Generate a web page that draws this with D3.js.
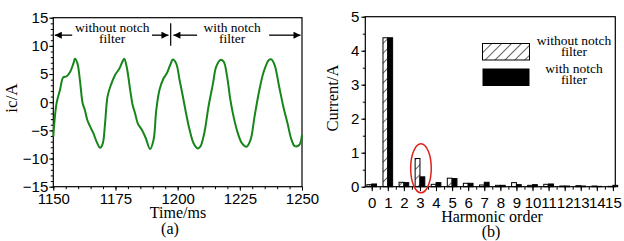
<!DOCTYPE html>
<html><head><meta charset="utf-8">
<script src="https://cdn.jsdelivr.net/npm/d3@7"></script>
<style>
html,body{margin:0;padding:0;background:#fff;}
svg{display:block;}
.tick text{font-family:"Liberation Sans",Arial,sans-serif;font-size:15px;fill:#000;}
.serif{font-family:"Liberation Serif","Times New Roman",serif;fill:#000;}
</style></head>
<body>
<svg id="c" width="624" height="241"></svg>
<script>
// ---- Panel (a): waveform ----
const timeMs = [1150,1151.3,1152.7,1154,1155.4,1156.8,1158.1,1158.7,1159.7,1160.7,1161.8,1162.7,1163.7,1164.8,1166.1,1167.4,1168.8,1169.9,1170.8,1171.8,1173.1,1174.8,1176.6,1177.7,1178.5,1179.5,1180.9,1181.9,1182.9,1184,1185.6,1187.2,1188.9,1190.3,1191.4,1192.7,1194.3,1195.6,1197,1198.1,1199.4,1200.8,1202.1,1203.4,1204.8,1206.4,1208,1209.1,1210.7,1212.4,1214.2,1215.5,1217.2,1218.5,1219.9,1221.2,1222.5,1224.2,1225.9,1227.7,1229.3,1230.9,1232.6,1234.6,1236.7,1237.7,1239,1240.8,1242.5,1244.2,1245.8,1247.1,1248.9,1250];
const icA = [-6.1,-0.2,2.2,4.4,4.6,5.4,6.9,7.7,6.9,3.9,-0.2,-1.4,-3.2,-4.3,-5.5,-7.0,-8.1,-7.3,-3.8,1.0,3.0,4.8,6.0,7.1,7.7,6.3,2.2,-0.5,-2.0,-3.8,-4.9,-6.4,-8.3,-6.7,-1.4,2.2,4.2,5.1,6.6,7.6,6.9,3.9,1.0,-2.0,-4.9,-7.3,-8.2,-7.9,-5.5,-0.8,3.3,6.3,7.5,7.2,4.5,0.4,-2.6,-5.5,-7.3,-7.9,-6.7,-2.6,1.6,5.4,7.5,7.6,6.6,2.8,-0.8,-3.8,-6.7,-7.8,-7.6,-5.8];
const timeTicks = [1150,1175,1200,1225,1250];
const icTicks = [-15,-10,-5,0,5,10,15];

// ---- Panel (b): harmonic spectrum ----
const harmonicOrder = [0,1,2,3,4,5,6,7,8,9,10,11,12,13,14,15];
const withoutNotch = [0.06,4.38,0.13,0.83,0.07,0.25,0.10,0.05,0.04,0.12,0.04,0.07,0.02,0.03,0.02,0.01];
const withNotch    = [0.08,4.38,0.12,0.29,0.12,0.24,0.10,0.13,0.04,0.06,0.06,0.08,0.02,0.02,0.01,0.04];
const currentTicks = [0,1,2,3,4,5];
const seriesNames = ["without notch filter","with notch filter"];

const svg = d3.select("#c");
const defs = svg.append("defs");
const pat = defs.append("pattern").attr("id","hatch").attr("patternUnits","userSpaceOnUse")
  .attr("width",7).attr("height",7).attr("patternTransform","rotate(45)");
pat.append("rect").attr("width",7).attr("height",7).attr("fill","#fff");
pat.append("line").attr("x1",0).attr("y1",0).attr("x2",0).attr("y2",7).attr("stroke","#000").attr("stroke-width",1.2);

const arrowId = "ah";
defs.append("marker").attr("id",arrowId).attr("viewBox","0 0 10 10").attr("refX",10).attr("refY",5)
  .attr("markerWidth",9).attr("markerHeight",7).attr("markerUnits","userSpaceOnUse").attr("orient","auto")
  .append("path").attr("d","M0,0L10,5L0,10Z").attr("fill","#000");

// ===== Panel (a) =====
const xa = d3.scaleLinear().domain([1150,1250]).range([53.3,302]);
const ya = d3.scaleLinear().domain([-15,15]).range([186.7,17.7]);
const ga = svg.append("g");

ga.append("g").attr("transform",`translate(${xa.range()[0]},0)`)
  .call(d3.axisLeft(ya).ticks(30).tickSize(2.5).tickFormat(""))
  .call(g=>g.select(".domain").remove());
ga.append("g").attr("transform",`translate(0,${ya.range()[0]})`)
  .call(d3.axisBottom(xa).ticks(20).tickSize(2.5).tickFormat(""))
  .call(g=>g.select(".domain").remove());

ga.append("g").attr("transform",`translate(${xa.range()[0]},0)`)
  .call(d3.axisLeft(ya).tickValues(icTicks).tickSize(4).tickPadding(1).tickFormat(d3.format("d")))
  .call(g=>g.select(".domain").remove());
ga.append("g").attr("transform",`translate(0,${ya.range()[0]})`)
  .call(d3.axisBottom(xa).tickValues(timeTicks).tickSize(4).tickPadding(3).tickFormat(d3.format("d")))
  .call(g=>g.select(".domain").remove());
ga.selectAll(".tick line").attr("stroke","#000");
ga.append("rect").attr("x",xa.range()[0]).attr("y",ya.range()[1])
  .attr("width",xa.range()[1]-xa.range()[0]).attr("height",ya.range()[0]-ya.range()[1])
  .attr("fill","none").attr("stroke","#000").attr("stroke-width",1.2);

const line = d3.line().x((d,i)=>xa(timeMs[i])).y(d=>ya(d)).curve(d3.curveCatmullRom.alpha(0.5));
ga.append("path").datum(icA).attr("d",line).attr("fill","none")
  .attr("stroke","#16861a").attr("stroke-width",2).attr("stroke-linejoin","round");

// annotation arrows
const arrowY = 11.9;
function arrow(t0,t1){
  ga.append("line").attr("x1",xa(t0)).attr("x2",xa(t1)).attr("y1",ya(arrowY)).attr("y2",ya(arrowY))
    .attr("stroke","#000").attr("stroke-width",1.3).attr("marker-end",`url(#${arrowId})`);
}
arrow(1157.6,1150.6);
arrow(1189.7,1196.3);
arrow(1207.8,1198.3);
arrow(1236.8,1249.4);
ga.append("line").attr("x1",xa(1197.2)).attr("x2",xa(1197.2)).attr("y1",ya(14.0)).attr("y2",ya(10.0))
  .attr("stroke","#000").attr("stroke-width",1.2);
function label2(t, l1, l2){
  ga.append("text").attr("class","serif").attr("x",xa(t)).attr("y",ya(12.5)).attr("text-anchor","middle")
    .attr("font-size",13.5).text(l1);
  ga.append("text").attr("class","serif").attr("x",xa(t)).attr("y",ya(10.5)).attr("text-anchor","middle")
    .attr("font-size",13.5).text(l2);
}
label2(1173.7,"without notch","filter");
label2(1221.9,"with notch","filter");

ga.append("text").attr("class","serif").attr("transform","translate(17,98) rotate(-90)")
  .attr("text-anchor","middle").attr("font-size",17).text("ic/A");
ga.append("text").attr("class","serif").attr("x",178).attr("y",218).attr("text-anchor","middle")
  .attr("font-size",16).text("Time/ms");
ga.append("text").attr("class","serif").attr("x",170).attr("y",234).attr("text-anchor","middle")
  .attr("font-size",16).text("(a)");

// ===== Panel (b) =====
const xb = d3.scaleLinear().domain([-0.4,15.15]).range([365.3,615.3]);
const yb = d3.scaleLinear().domain([0,5]).range([186.7,16.7]);
const gb = svg.append("g");
const bw = 0.3;

gb.append("g").attr("transform",`translate(${xb.range()[0]},0)`)
  .call(d3.axisLeft(yb).ticks(10).tickSize(2.5).tickFormat(""))
  .call(g=>g.select(".domain").remove());
gb.append("g").attr("transform",`translate(0,${yb.range()[0]})`)
  .call(d3.axisBottom(xb).tickValues(d3.range(0,15.01,0.5)).tickSize(3).tickFormat(""))
  .call(g=>g.select(".domain").remove());
gb.append("g").attr("transform",`translate(${xb.range()[0]},0)`)
  .call(d3.axisLeft(yb).tickValues(currentTicks).tickSize(4).tickPadding(2).tickFormat(d3.format("d")))
  .call(g=>g.select(".domain").remove());
gb.append("g").attr("transform",`translate(0,${yb.range()[0]})`)
  .call(d3.axisBottom(xb).tickValues(harmonicOrder).tickSize(4.5).tickPadding(6).tickFormat(d3.format("d")))
  .call(g=>g.select(".domain").remove());
gb.selectAll(".tick line").attr("stroke","#000");

gb.selectAll("rect.wo").data(withoutNotch).join("rect").attr("class","wo")
  .attr("x",(d,i)=>xb(harmonicOrder[i]-bw)).attr("width",xb(bw)-xb(0))
  .attr("y",d=>yb(d)).attr("height",d=>yb(0)-yb(d))
  .attr("fill","url(#hatch)").attr("stroke","#000").attr("stroke-width",1);
gb.selectAll("rect.wi").data(withNotch).join("rect").attr("class","wi")
  .attr("x",(d,i)=>xb(harmonicOrder[i])).attr("width",xb(bw)-xb(0))
  .attr("y",d=>yb(d)).attr("height",d=>yb(0)-yb(d))
  .attr("fill","#000").attr("stroke","#000").attr("stroke-width",1);

gb.append("rect").attr("x",xb.range()[0]).attr("y",yb.range()[1])
  .attr("width",xb.range()[1]-xb.range()[0]).attr("height",yb.range()[0]-yb.range()[1])
  .attr("fill","none").attr("stroke","#000").attr("stroke-width",1.2);

gb.append("ellipse").attr("cx",xb(3)+1).attr("cy",yb(0.54)).attr("rx",10.3).attr("ry",24.5)
  .attr("fill","none").attr("stroke","#e0201c").attr("stroke-width",1.5);

// legend
const leg = gb.append("g");
leg.append("rect").attr("x",482.5).attr("y",43.5).attr("width",47).attr("height",16.5)
  .attr("fill","url(#hatch)").attr("stroke","#000").attr("stroke-width",1);
leg.append("rect").attr("x",482.5).attr("y",68.5).attr("width",47).attr("height",17.5)
  .attr("fill","#000");
[["without notch","filter",45,56],["with notch","filter",73,84]].forEach(([a,b,y1,y2])=>{
  leg.append("text").attr("class","serif").attr("x",574).attr("y",y1).attr("text-anchor","middle")
    .attr("font-size",13.5).text(a);
  leg.append("text").attr("class","serif").attr("x",574).attr("y",y2).attr("text-anchor","middle")
    .attr("font-size",13.5).text(b);
});

gb.append("text").attr("class","serif").attr("transform","translate(338,98) rotate(-90)")
  .attr("text-anchor","middle").attr("font-size",16.5).text("Current/A");
gb.append("text").attr("class","serif").attr("x",492).attr("y",222).attr("text-anchor","middle")
  .attr("font-size",16).text("Harmonic order");
gb.append("text").attr("class","serif").attr("x",491).attr("y",237).attr("text-anchor","middle")
  .attr("font-size",16).text("(b)");
</script>
</body></html>
